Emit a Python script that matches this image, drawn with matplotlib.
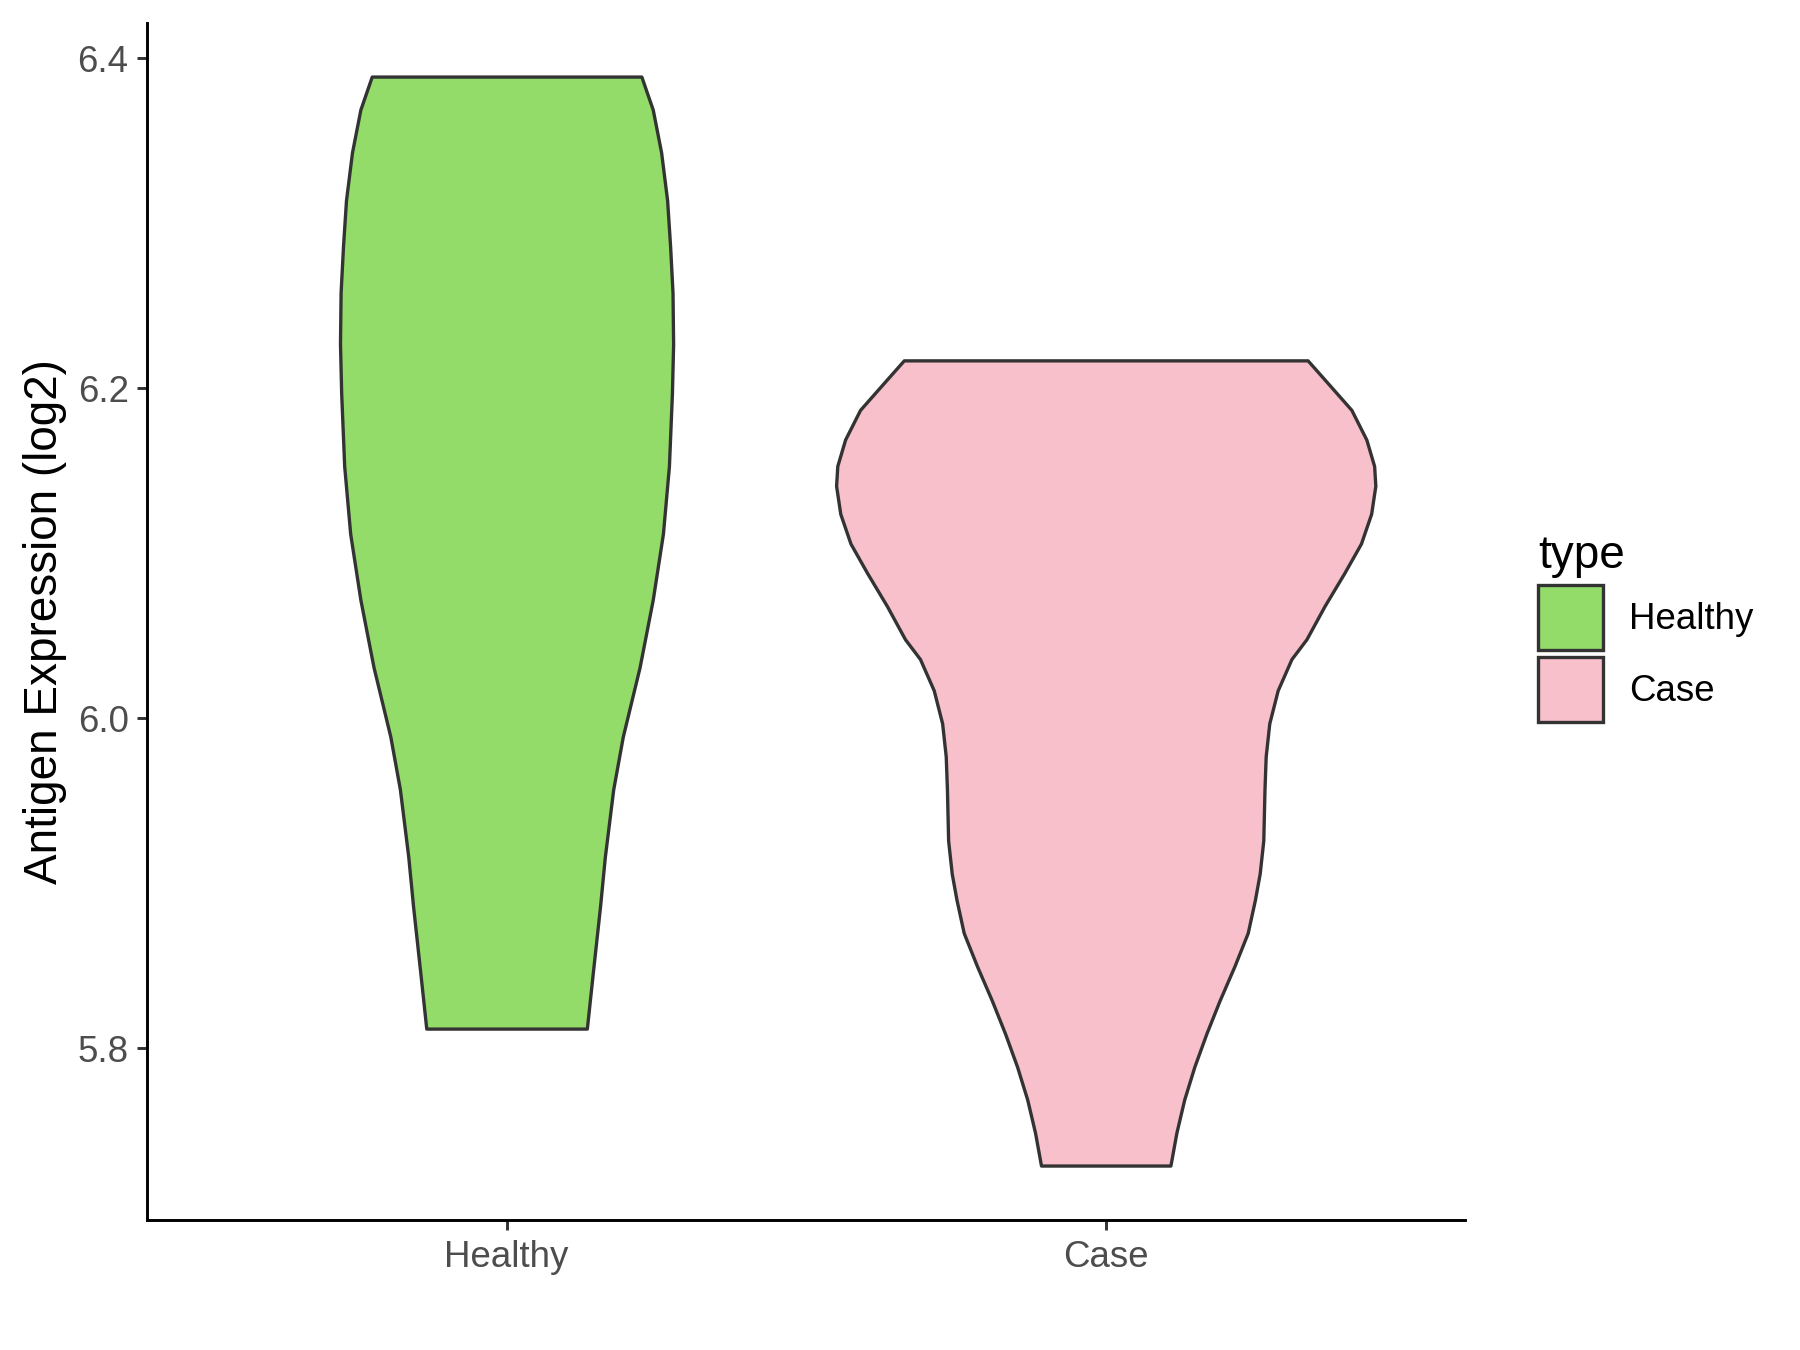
import matplotlib
matplotlib.use("Agg")
from matplotlib import pyplot as plt
from matplotlib.patches import Patch

plt.rcParams["font.family"] = ["Liberation Sans", "DejaVu Sans"]

# violin outlines: expression level and half width (x units)
categories = ["Healthy", "Case"]
colors = ["#94DC6A", "#F7C0CB"]

healthy_y = [6.389, 6.369, 6.343, 6.314, 6.286, 6.258, 6.227, 6.197, 6.153,
             6.112, 6.072, 6.031, 5.989, 5.957, 5.916, 5.886, 5.846, 5.812]
healthy_w = [0.225, 0.244, 0.258, 0.268, 0.273, 0.277, 0.278, 0.276, 0.271,
             0.261, 0.244, 0.222, 0.194, 0.178, 0.164, 0.156, 0.144, 0.134]

case_y = [6.217, 6.201, 6.187, 6.169, 6.153, 6.141, 6.124, 6.106, 6.088,
          6.068, 6.048, 6.036, 6.017, 5.997, 5.977, 5.957, 5.926, 5.906,
          5.890, 5.870, 5.850, 5.829, 5.809, 5.789, 5.769, 5.749, 5.729]
case_w = [0.337, 0.376, 0.410, 0.435, 0.448, 0.450, 0.443, 0.426, 0.398,
          0.365, 0.335, 0.310, 0.287, 0.273, 0.267, 0.265, 0.263, 0.257,
          0.249, 0.237, 0.215, 0.190, 0.168, 0.148, 0.131, 0.118, 0.108]

yticks = [5.8, 6.0, 6.2, 6.4]

fig = plt.figure(figsize=(12, 9), dpi=150)
ax = fig.add_axes([0.0817, 0.0963, 0.7323, 0.8867])

profiles = [(healthy_y, healthy_w), (case_y, case_w)]
for i, ((ys, ws), col) in enumerate(zip(profiles, colors)):
    pos = i + 1
    ax.fill_betweenx(
        ys,
        [pos - w for w in ws],
        [pos + w for w in ws],
        facecolor=col,
        edgecolor="#333333",
        linewidth=1.6,
        joinstyle="round",
    )

ax.set_xlim(0.4, 2.6)
ax.set_ylim(5.696, 6.4215)
ax.set_xticks([1, 2])
ax.set_xticklabels(categories)
ax.set_yticks(yticks)
ax.set_yticklabels([f"{t:.1f}" for t in yticks])
ax.tick_params(axis="both", labelsize=17.6, labelcolor="#4D4D4D",
               color="#333333", width=1.4, length=4.8, pad=4)
ax.tick_params(axis="x", pad=5)
for side in ["top", "right"]:
    ax.spines[side].set_visible(False)
for side in ["left", "bottom"]:
    ax.spines[side].set_linewidth(1.4)
    ax.spines[side].set_color("black")
ax.set_ylabel("Antigen Expression (log2)", fontsize=22, labelpad=5)

handles = [Patch(facecolor=c, edgecolor="#333333", linewidth=1.6) for c in colors]
leg = fig.legend(
    handles,
    categories,
    title="type",
    loc="upper left",
    bbox_to_anchor=(0.836, 0.629),
    frameon=False,
    fontsize=17.6,
    title_fontsize=22,
    handlelength=1.78,
    handleheight=2.36,
    handletextpad=0.72,
    labelspacing=0.19,
    alignment="left",
)

fig.savefig("out.png", dpi=150)
